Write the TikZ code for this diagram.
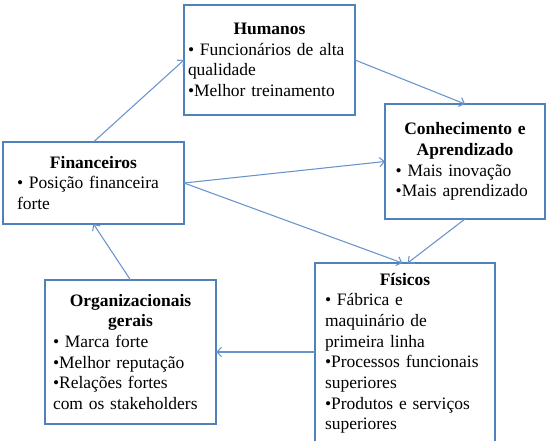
\documentclass[tikz,border=0pt]{standalone}
\usepackage{fontspec}
\setmainfont{Liberation Serif}
\usetikzlibrary{arrows.meta}
\definecolor{borda}{HTML}{4F81BD}
\definecolor{seta}{HTML}{6A93CB}
\hyphenpenalty=10000
\newcommand{\titulo}[1]{{\centering\bfseries #1\par}}

\begin{document}
\begin{tikzpicture}[x=0.75pt,y=-0.75pt,
  caixa/.style={draw=borda,line width=1.5pt,anchor=north west,align=left,
    inner ysep=3pt,outer sep=0pt,font=\fontsize{13.1pt}{15.5pt}\selectfont},
  liga/.style={draw=seta,line width=0.8pt,-{Straight Barb[length=3.5pt,width=7pt]}}]
\useasboundingbox (0,0) rectangle (548,441);
\clip (0,0) rectangle (548,441);
\node [caixa,text width=122.25pt,inner xsep=3pt,minimum height=82.5pt] (hum) at (184,5)
  {\titulo{Humanos}• Funcionários de alta\\qualidade\\•Melhor treinamento};
\node [caixa,text width=104pt,inner xsep=8pt,minimum height=86.25pt] (con) at (385,104)
  {\titulo{Conhecimento e\\Aprendizado}• Mais inovação\\•Mais aprendizado};
\node [caixa,text width=114.75pt,inner xsep=10.5pt,minimum height=61.5pt] (fin) at (3,142)
  {\titulo{Financeiros}• Posição financeira\\forte};
\node [caixa,text width=120pt,inner xsep=7.5pt,inner ysep=7.5pt] (fis) at (315,263)
  {\titulo{Físicos}• Fábrica e\\maquinário de\\primeira linha\\•Processos funcionais\\superiores\\•Produtos e serviços\\superiores\rule[-14pt]{0pt}{0pt}};
\node [caixa,text width=116.25pt,inner xsep=6pt,minimum height=108pt] (org) at (45,280)
  {\titulo{Organizacionais\\gerais}• Marca forte\\•Melhor reputação\\•Relações fortes\\com os stakeholders};
\draw [liga] (fin.north) -- (hum.west);
\draw [liga] (hum.east) -- (con.north);
\draw [liga] (fin.east) -- (con.west);
\draw [liga] (fin.east) -- ([xshift=-2pt]fis.north);
\draw [liga] (con.south) -- ([xshift=2pt]fis.north);
\draw [liga] (org.east -| fis.west) -- (org.east);
\draw [liga] (org.north) -- (fin.south);
\end{tikzpicture}
\end{document}
